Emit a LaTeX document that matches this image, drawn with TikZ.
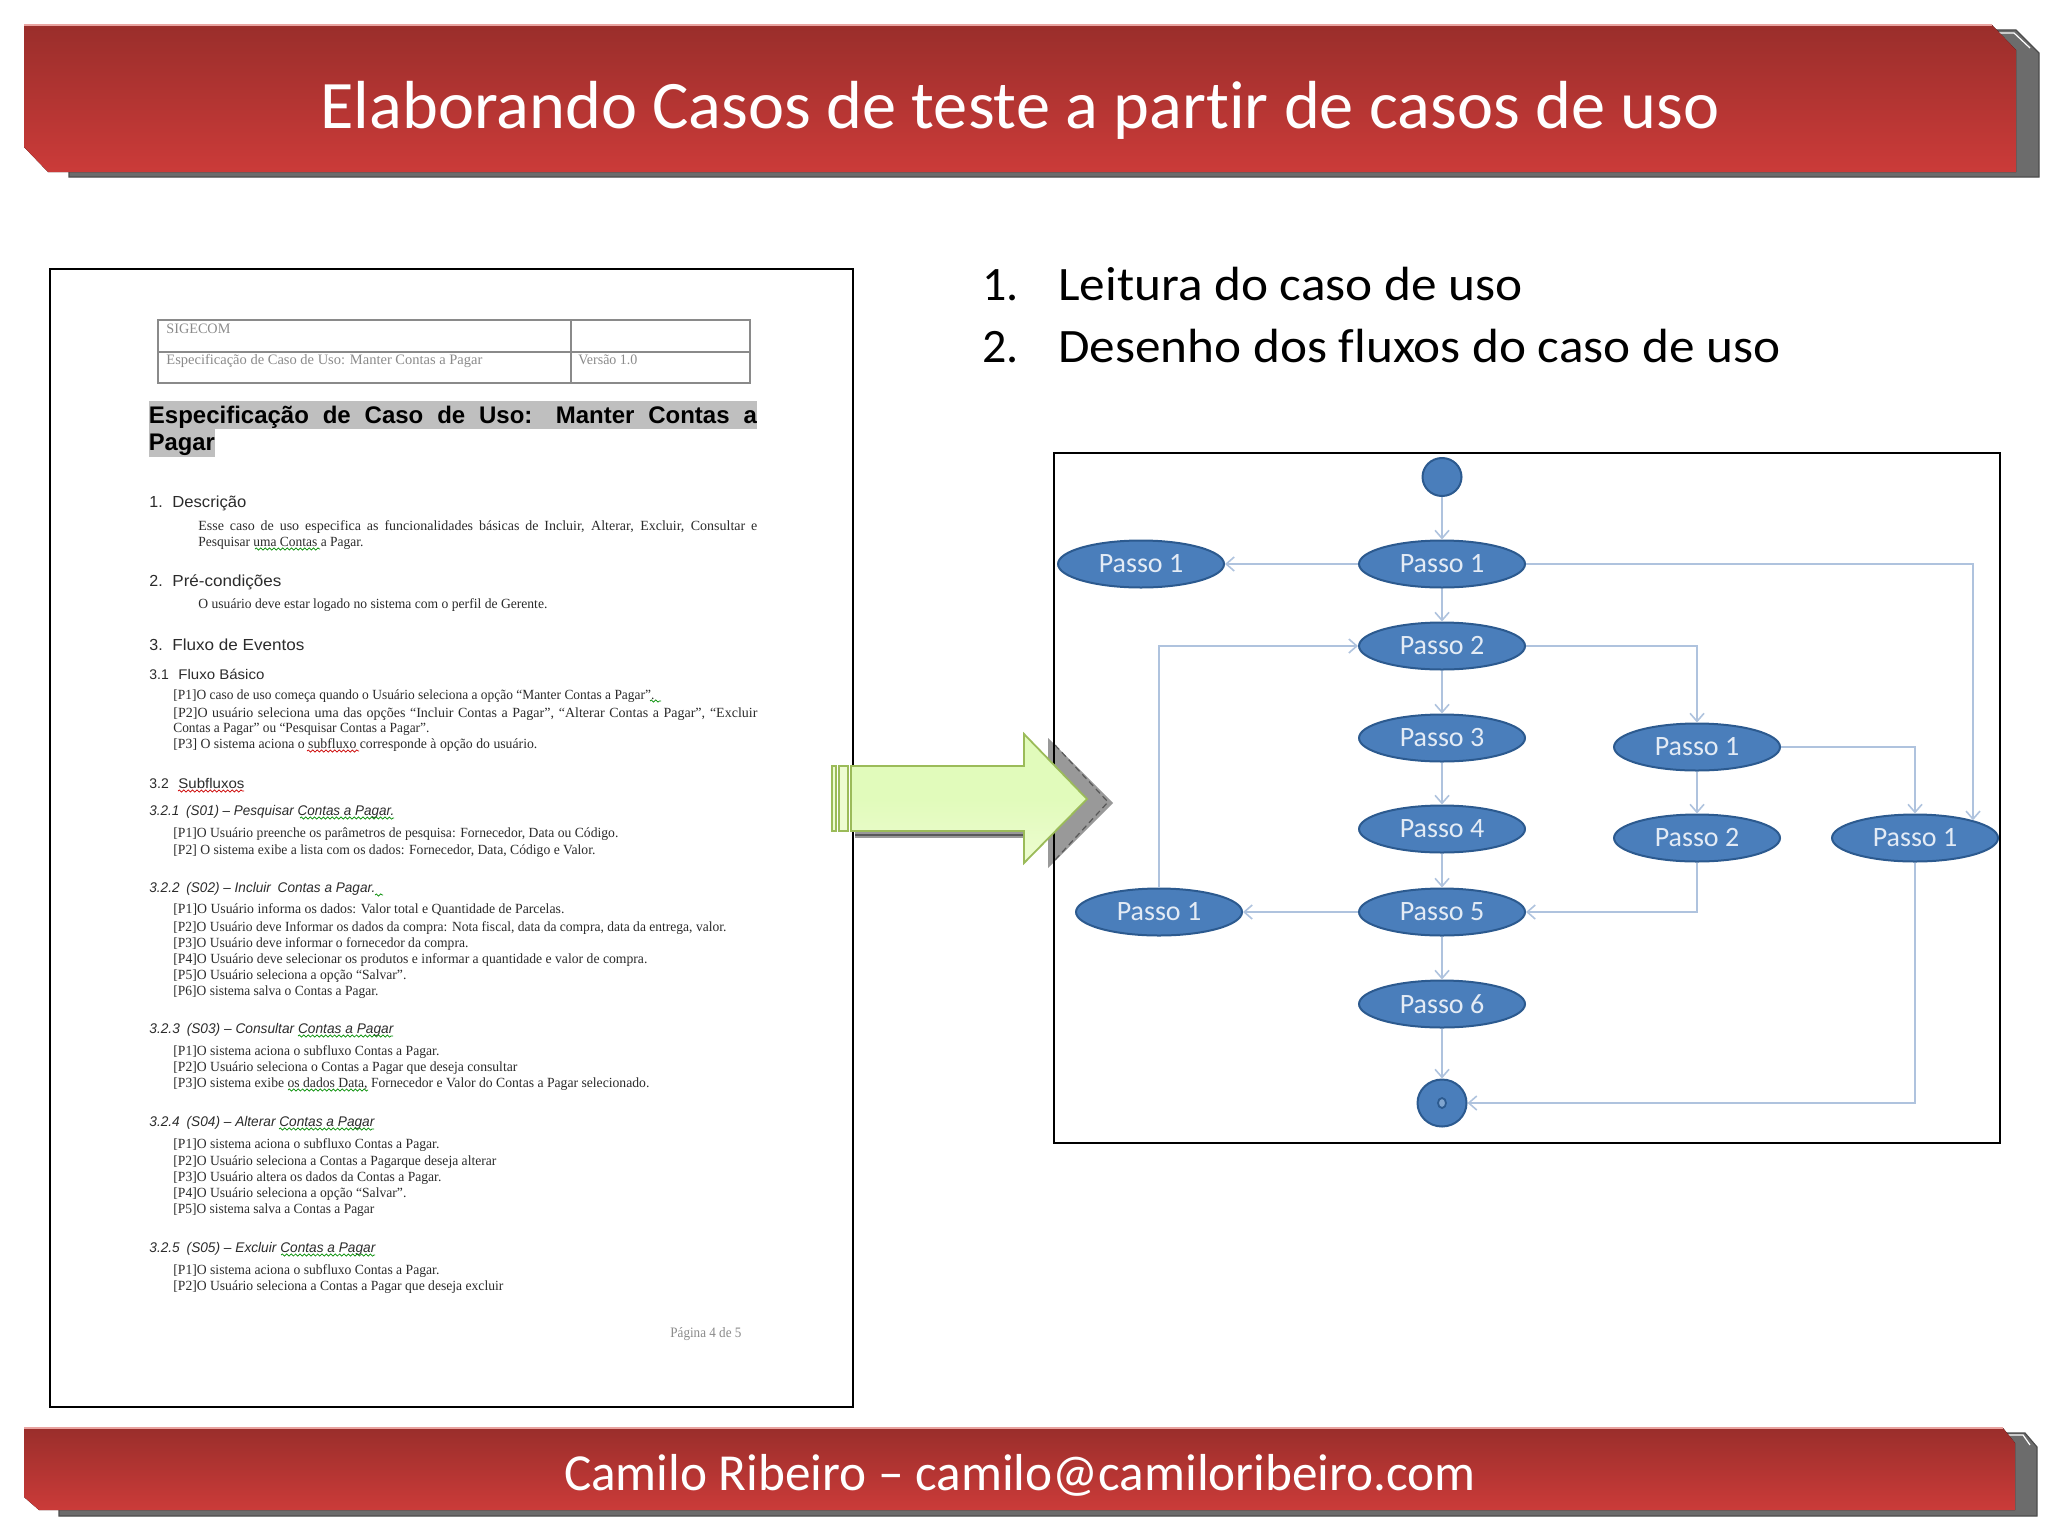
\documentclass[tikz,border=0pt]{standalone}
\usepackage{fontspec}
\usepackage{graphicx}
\setmainfont{Liberation Serif}
\setsansfont{Liberation Sans}
\newfontfamily\slidefont[Ligatures=NoCommon]{Carlito}
\usetikzlibrary{arrows.meta,shapes.geometric,decorations.pathmorphing}

\definecolor{bandtop}{HTML}{9A2E2B}
\definecolor{bandbot}{HTML}{CB3B39}
\definecolor{bandlip}{HTML}{E9A3A0}
\definecolor{bandgray}{HTML}{6C6C6C}
\definecolor{stepblue}{HTML}{4A7EBB}
\definecolor{stepedge}{HTML}{2C5A8F}
\definecolor{stepink}{HTML}{E3EBF5}
\definecolor{linkblue}{HTML}{AFC3DE}
\definecolor{arrowedge}{HTML}{9BBB59}
\definecolor{arrowlight}{HTML}{EDFCD0}
\definecolor{arrowmid}{HTML}{E1FBBB}
\definecolor{docink}{HTML}{2B2B2B}
\definecolor{docgray}{HTML}{8A8A8A}
\definecolor{docbar}{HTML}{BFBFBF}

% text squeezed to the width it has in the picture (px)
\newcommand{\fitw}[2]{\resizebox{\dimexpr#1pt/2\relax}{\height}{#2}}
% justified line: only the word gaps grow
\newcommand{\justw}[2]{\makebox[\dimexpr#1pt/2\relax][s]{#2}}

\tikzset{
  band/.style={top color=bandtop, bottom color=bandbot, draw=none},
  bandshadow/.style={fill=bandgray, draw=black!70, line width=.6pt},
  bandtext/.style={text=white, font=\slidefont\fontsize{#1}{#1}\selectfont, inner sep=0pt, anchor=base},
  listitem/.style={text=black, font=\slidefont\fontsize{24}{26}\selectfont, inner sep=0pt, anchor=base west},
  frame/.style={draw=black, line width=1pt, fill=none},
  passo/.style={ellipse, fill=stepblue, draw=stepedge, line width=1pt, minimum width=83pt, minimum height=23.5pt,
    inner sep=0pt, text=stepink, font=\slidefont\fontsize{14}{14}\selectfont},
  link/.style={draw=linkblue, line width=.8pt, -{Straight Barb[length=4pt,width=7pt]}},
  doc/.style={anchor=base west, inner sep=0pt, text=docink, font=\rmfamily\fontsize{7}{8}\selectfont},
  docgrey/.style={doc, text=docgray, font=\rmfamily\fontsize{7.2}{8}\selectfont},
  sec/.style={doc, font=\sffamily\fontsize{8}{9}\selectfont},
  subsec/.style={doc, font=\sffamily\fontsize{7}{8}\selectfont},
  subit/.style={doc, font=\sffamily\itshape\fontsize{7}{8}\selectfont},
  head/.style={doc, text=black, font=\sffamily\bfseries\fontsize{12}{13}\selectfont},
  wavyg/.style={draw=green!55!black, line width=.35pt, decorate, decoration={snake,amplitude=.55pt,segment length=2.2pt}},
  wavyr/.style={wavyg, draw=red!80!black},
}

\begin{document}
\begin{tikzpicture}[x=.5pt,y=-.5pt]
  \useasboundingbox (0,0) rectangle (2048,1536);

  % header
  \draw[bandshadow] (69,177) -- (2039,177) -- (2039,53) -- (2016,30) -- (1985,30) -- (69,60) -- cycle;
  \draw[white, line width=.6pt] (1992,33) -- (2014,33) -- (2030,48);
  \fill[band] (24,25) -- (1992,25) -- (2016,50) -- (2016,172) -- (48,172) -- (24,147) -- cycle;
  \draw[bandlip, line width=.7pt] (24,25) -- (1992,25);
  \node[bandtext=34] (titulo) at (1020,128) {\fitw{1399}{Elaborando Casos de teste a partir de casos de uso}};

  % footer
  \draw[bandshadow] (59,1516) -- (2037,1516) -- (2037,1447) -- (2025,1433) -- (1990,1433) -- (59,1440) -- cycle;
  \draw[white, line width=.6pt] (2005,1435) -- (2023,1435) -- (2030,1445);
  \fill[band] (24,1428) -- (2003,1428) -- (2015,1443) -- (2015,1510) -- (39,1510) -- (24,1497) -- cycle;
  \draw[bandlip, line width=.7pt] (24,1428) -- (2003,1428);
  \node[bandtext=26] (rodape) at (1020,1490) {\fitw{912}{Camilo Ribeiro – camilo@camiloribeiro.com}};

  % list
  \node[listitem] (num1) at (982,300) {1.};
  \node[listitem] (item1) at (1058,300) {\fitw{464}{Leitura do caso de uso}};
  \node[listitem] (num2) at (982,362) {2.};
  \node[listitem] (item2) at (1058,362) {\fitw{722}{Desenho dos fluxos do caso de uso}};

  % arrow shadow goes under the frames
  \fill[black!40] (855,831) rectangle (1024,838);
  \fill[black!40] (1048,738) -- (1113,803) -- (1048,868) -- cycle;
  \draw[black!65, line width=.6pt] (855,835) -- (1024,835);
  \draw[black!65, line width=.6pt, densely dashed] (1055,745) -- (1108,802) -- (1055,860);

  % frames
  \draw[frame] (50,269) rectangle (853,1407);
  \draw[frame] (1054,453) rectangle (2000,1143);

  % arrow
  \draw[arrowedge, line width=.9pt, top color=arrowmid, bottom color=arrowlight, middle color=arrowmid]
    (851,766) -- (1024,766) -- (1024,734) -- (1087,799) -- (1024,863) -- (1024,831) -- (851,831) -- cycle;
  \draw[arrowedge, line width=.9pt, fill=arrowlight] (832,766) rectangle (836,831);
  \draw[arrowedge, line width=.9pt, fill=arrowlight] (839,766) rectangle (848,831);

  % use case document
  \draw[docgray, line width=.7pt] (158,320) rectangle (750,383);
  \draw[docgray, line width=.7pt] (158,352) -- (750,352);
  \draw[docgray, line width=.7pt] (571,320) -- (571,383);
  \node[docgrey] (sig) at (166,333) {\fitw{64}{SIGECOM}};
  \node[docgrey] (esp) at (166,364) {\fitw{316}{Especificação de Caso de Uso: Manter Contas a Pagar}};
  \node[docgrey] (ver) at (578,364) {\fitw{59}{Versão 1.0}};

  \fill[docbar] (148.5,401) rectangle (757,429);
  \fill[docbar] (148.5,429) rectangle (215,457);
  \node[head] (h1) at (148.5,423) {\justw{608}{Especificação de Caso de Uso: Manter Contas a}};
  \node[head] (h2) at (148.5,450) {\fitw{66}{Pagar}};

  \node[sec] (n1) at (149,507) {1.};
  \node[sec] (s1) at (172,507) {\fitw{74}{Descrição}};
  \node[doc] (l1) at (198,530) {\justw{559}{Esse caso de uso especifica as funcionalidades básicas de Incluir, Alterar, Excluir, Consultar e}};
  \node[doc] (l2) at (198,546) {\fitw{165}{Pesquisar uma Contas a Pagar.}};
  \draw[wavyg] (255,549) -- (320,549);

  \node[sec] (n2) at (149,586) {2.};
  \node[sec] (s2) at (172,586) {\fitw{109}{Pré-condições}};
  \node[doc] (l3) at (198,608) {\fitw{349}{O usuário deve estar logado no sistema com o perfil de Gerente.}};

  \node[sec] (n3) at (149,650) {3.};
  \node[sec] (s3) at (172,650) {\fitw{132}{Fluxo de Eventos}};
  \node[subsec] (n31) at (149,679) {3.1};
  \node[subsec] (s31) at (178,679) {\fitw{86}{Fluxo Básico}};
  \node[doc] (l4) at (173,699) {\fitw{481}{[P1]O caso de uso começa quando o Usuário seleciona a opção “Manter Contas a Pagar”.}};
  \draw[wavyg] (650,701) -- (661,701);
  \node[doc] (l5) at (173,717) {\justw{584}{[P2]O usuário seleciona uma das opções “Incluir Contas a Pagar”, “Alterar Contas a Pagar”, “Excluir}};
  \node[doc] (l6) at (173,732) {\fitw{256}{Contas a Pagar” ou “Pesquisar Contas a Pagar”.}};
  \node[doc] (l7) at (173,748) {\fitw{364}{[P3] O sistema aciona o subfluxo corresponde à opção do usuário.}};
  \draw[wavyr] (307,751) -- (359,751);

  \node[subsec] (n32) at (149,788) {3.2};
  \node[subsec] (s32) at (178,788) {\fitw{66}{Subfluxos}};
  \draw[wavyr] (178,791) -- (244,791);

  \node[subit] (s321) at (149,815) {\fitw{245}{3.2.1\enspace(S01) – Pesquisar Contas a Pagar.}};
  \draw[wavyg] (300,818) -- (394,818);
  \node[doc] (l8) at (173,837) {\fitw{445}{[P1]O Usuário preenche os parâmetros de pesquisa: Fornecedor, Data ou Código.}};
  \node[doc] (l9) at (173,854) {\fitw{422}{[P2] O sistema exibe a lista com os dados:  Fornecedor, Data, Código e Valor.}};

  \node[subit] (s322) at (149,892) {\fitw{226}{3.2.2\enspace(S02) – Incluir\enspace Contas a Pagar.}};
  \draw[wavyg] (375,895) -- (383,895);
  \node[doc] (l10) at (173,913) {\fitw{391}{[P1]O Usuário informa os dados: Valor total e Quantidade de Parcelas.}};
  \node[doc] (l11) at (173,931) {\fitw{553}{[P2]O Usuário deve Informar os dados da compra: Nota fiscal, data da compra, data da entrega, valor.}};
  \node[doc] (l12) at (173,947) {\fitw{295}{[P3]O Usuário deve informar o fornecedor da compra.}};
  \node[doc] (l13) at (173,963) {\fitw{474}{[P4]O Usuário deve selecionar os produtos e informar a quantidade e valor de compra.}};
  \node[doc] (l14) at (173,979) {\fitw{233}{[P5]O Usuário seleciona a opção “Salvar”.}};
  \node[doc] (l15) at (173,995) {\fitw{205}{[P6]O sistema salva o Contas a Pagar.}};

  \node[subit] (s323) at (149,1033) {\fitw{244}{3.2.3\enspace(S03) – Consultar Contas a Pagar}};
  \draw[wavyg] (298,1036) -- (393,1036);
  \node[doc] (l16) at (173,1055) {\fitw{266}{[P1]O sistema aciona o subfluxo Contas a Pagar.}};
  \node[doc] (l17) at (173,1071) {\fitw{344}{[P2]O Usuário seleciona o Contas a Pagar que deseja consultar}};
  \node[doc] (l18) at (173,1087) {\fitw{476}{[P3]O sistema exibe os dados Data, Fornecedor e Valor do Contas a Pagar selecionado.}};
  \draw[wavyg] (288,1090) -- (368,1090);

  \node[subit] (s324) at (149,1126) {\fitw{225}{3.2.4\enspace(S04) – Alterar Contas a Pagar}};
  \draw[wavyg] (279,1129) -- (374,1129);
  \node[doc] (l19) at (173,1148) {\fitw{266}{[P1]O sistema aciona o subfluxo Contas a Pagar.}};
  \node[doc] (l20) at (173,1165) {\fitw{323}{[P2]O Usuário seleciona a Contas a Pagarque deseja alterar}};
  \node[doc] (l21) at (173,1181) {\fitw{268}{[P3]O Usuário altera os dados da Contas a Pagar.}};
  \node[doc] (l22) at (173,1197) {\fitw{233}{[P4]O Usuário seleciona a opção “Salvar”.}};
  \node[doc] (l23) at (173,1213) {\fitw{201}{[P5]O sistema salva a Contas a Pagar}};

  \node[subit] (s325) at (149,1252) {\fitw{226}{3.2.5\enspace(S05) – Excluir Contas a Pagar}};
  \draw[wavyg] (281,1255) -- (375,1255);
  \node[doc] (l24) at (173,1274) {\fitw{266}{[P1]O sistema aciona o subfluxo Contas a Pagar.}};
  \node[doc] (l25) at (173,1290) {\fitw{330}{[P2]O Usuário seleciona a Contas a Pagar que deseja excluir}};
  \node[docgrey] (pag) at (670,1337) {\fitw{71}{Página 4 de 5}};

  % flow
  \node[passo, minimum width=19.5pt, minimum height=19pt] (ini) at (1442,477) {};
  \node[passo] (p1) at (1442,564) {Passo 1};
  \node[passo] (esq) at (1141,564) {Passo 1};
  \node[passo] (p2) at (1442,646) {Passo 2};
  \node[passo] (p3) at (1442,738) {Passo 3};
  \node[passo] (p4) at (1442,829) {Passo 4};
  \node[passo] (p5) at (1442,912) {Passo 5};
  \node[passo] (p6) at (1442,1004) {Passo 6};
  \node[passo] (vol) at (1159,912) {Passo 1};
  \node[passo] (alt1) at (1697,747) {Passo 1};
  \node[passo] (alt2) at (1697,838) {Passo 2};
  \node[passo] (dir) at (1915,838) {Passo 1};
  \node[passo, minimum width=24.5pt, minimum height=23.5pt] (fim) at (1442,1103) {};
  \node[ellipse, fill=stepblue!70, draw=stepedge, line width=.9pt, minimum width=4pt, minimum height=5pt, inner sep=0pt] (fimc) at (fim) {};

  \draw[link] (ini) -- (p1);
  \draw[link] (p1) -- (p2);
  \draw[link] (p2) -- (p3);
  \draw[link] (p3) -- (p4);
  \draw[link] (p4) -- (p5);
  \draw[link] (p5) -- (p6);
  \draw[link] (p6) -- (fim);
  \draw[link] (p1) -- (esq);
  \draw[link] (p5) -- (vol);
  \draw[link] (p1.east) -| (dir.17);
  \draw[link] (p2.east) -| (alt1.north);
  \draw[link] (alt1) -- (alt2);
  \draw[link] (alt1.east) -| (dir.north);
  \draw[link] (alt2.south) |- (p5.east);
  \draw[link] (vol.north) |- (p2.west);
  \draw[link] (dir.south) |- (fim.east);
\end{tikzpicture}
\end{document}
